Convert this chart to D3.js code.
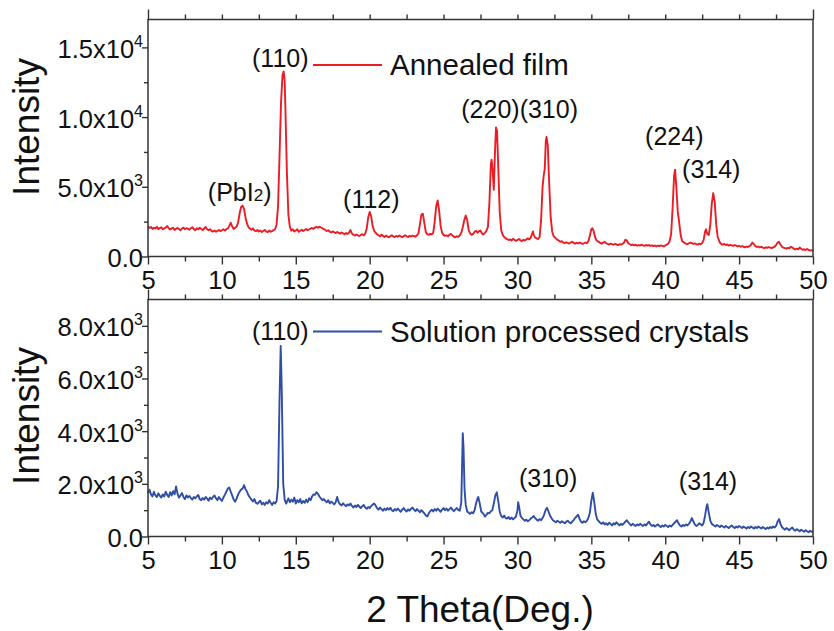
<!DOCTYPE html>
<html>
<head>
<meta charset="utf-8">
<script src="https://cdn.jsdelivr.net/npm/d3@7"></script>
<style>
  body { margin: 0; background: #fff; }
  svg { display: block; }
  text { font-family: "Liberation Sans", Arial, sans-serif; fill: #111; }
</style>
</head>
<body>
<svg id="chart" width="834" height="631"></svg>
<script>
// XRD pattern of the annealed film: [2θ (deg), intensity (counts)]
const filmPattern = [
  [5.0,2150],[5.1,2050],[5.2,2120],[5.3,1980],[5.4,2060],[5.5,2010],[5.6,2130],[5.7,1960],[5.8,2040],[5.9,2100],
  [6.0,1950],[6.1,2020],[6.2,2080],[6.3,2180],[6.4,2020],[6.5,1940],[6.6,2010],[6.7,2060],[6.8,1900],[6.9,1990],
  [7.0,2050],[7.1,1970],[7.2,1880],[7.3,2010],[7.4,2070],[7.5,1960],[7.6,2030],[7.7,1990],[7.8,1920],[7.9,2040],
  [8.0,2100],[8.1,1970],[8.2,1890],[8.3,2020],[8.4,1950],[8.5,2060],[8.6,1980],[8.7,1900],[8.8,2010],[8.9,2120],
  [9.0,1950],[9.1,1880],[9.2,1960],[9.3,1840],[9.4,1790],[9.5,1860],[9.6,1770],[9.7,1840],[9.8,1900],[9.9,1820],
  [10.0,1880],[10.1,1950],[10.2,1870],[10.3,1960],[10.4,2000],[10.5,2200],[10.6,2420],[10.7,2150],[10.8,1980],[10.9,2060],
  [11.0,2150],[11.1,2450],[11.2,3100],[11.3,3550],[11.4,3650],[11.5,3400],[11.6,2800],[11.7,2350],[11.8,2100],[11.9,2000],
  [12.0,1920],[12.1,2010],[12.2,1870],[12.3,1820],[12.4,1900],[12.5,1790],[12.6,1860],[12.7,1760],[12.8,1830],[12.9,1900],
  [13.0,1800],[13.1,1750],[13.2,1860],[13.3,1780],[13.4,1820],[13.5,1900],[13.6,1950],[13.7,2300],[13.8,3600],[13.9,7200],
  [14.0,11000],[14.1,13000],[14.18,13280],[14.25,12600],[14.3,10500],[14.4,6000],[14.5,3000],[14.6,2100],[14.7,1850],[14.8,1960],
  [14.9,1800],[15.0,1870],[15.1,1950],[15.2,1780],[15.3,1850],[15.4,1920],[15.5,1830],[15.6,1900],[15.7,1980],[15.8,1880],
  [15.9,1940],[16.0,2000],[16.1,2050],[16.2,1980],[16.3,2080],[16.4,2120],[16.5,2060],[16.6,2140],[16.7,2080],[16.8,2030],
  [16.9,1960],[17.0,1900],[17.1,1830],[17.2,1880],[17.3,1780],[17.4,1720],[17.5,1800],[17.6,1740],[17.7,1680],[17.8,1760],
  [17.9,1700],[18.0,1640],[18.1,1720],[18.2,1660],[18.3,1600],[18.4,1680],[18.5,1620],[18.6,1700],[18.7,1900],[18.8,1650],
  [18.9,1560],[19.0,1500],[19.1,1580],[19.2,1520],[19.3,1470],[19.4,1550],[19.5,1600],[19.6,1520],[19.7,1650],[19.8,2000],
  [19.9,2800],[20.0,3190],[20.1,2900],[20.2,2200],[20.3,1850],[20.4,1700],[20.5,1600],[20.6,1520],[20.7,1450],[20.8,1560],
  [20.9,1480],[21.0,1400],[21.1,1500],[21.2,1430],[21.3,1380],[21.4,1460],[21.5,1520],[21.6,1440],[21.7,1390],[21.8,1480],
  [21.9,1420],[22.0,1500],[22.1,1440],[22.2,1380],[22.3,1460],[22.4,1520],[22.5,1450],[22.6,1400],[22.7,1480],[22.8,1430],
  [22.9,1500],[23.0,1460],[23.1,1420],[23.2,1520],[23.3,1650],[23.4,2300],[23.5,3000],[23.6,3060],[23.7,2400],[23.8,1750],
  [23.9,1600],[24.0,1550],[24.1,1620],[24.2,1580],[24.3,1700],[24.4,2500],[24.5,3600],[24.6,4020],[24.7,3300],[24.8,2200],
  [24.9,1700],[25.0,1550],[25.1,1480],[25.2,1520],[25.3,1450],[25.4,1560],[25.5,1620],[25.6,1500],[25.7,1420],[25.8,1380],
  [25.9,1460],[26.0,1400],[26.1,1520],[26.2,1700],[26.3,2100],[26.4,2600],[26.5,2940],[26.6,2600],[26.7,1900],[26.8,1650],
  [26.9,1550],[27.0,1620],[27.1,1780],[27.2,1850],[27.3,1700],[27.4,1820],[27.5,1860],[27.6,1650],[27.7,1580],[27.8,1700],
  [27.9,1850],[28.0,2100],[28.1,3800],[28.2,6600],[28.25,6940],[28.32,6200],[28.4,4790],[28.48,7500],[28.55,9260],[28.62,9000],
  [28.7,6500],[28.8,3200],[28.9,1900],[29.0,1550],[29.1,1400],[29.2,1300],[29.3,1250],[29.4,1180],[29.5,1220],[29.6,1150],
  [29.7,1260],[29.8,1200],[29.9,1120],[30.0,1180],[30.1,1250],[30.2,1160],[30.3,1100],[30.4,1200],[30.5,1140],[30.6,1230],
  [30.7,1300],[30.8,1220],[30.9,1350],[31.0,1650],[31.05,1800],[31.1,1550],[31.2,1350],[31.3,1300],[31.4,1250],[31.5,1400],
  [31.6,2600],[31.7,5000],[31.77,5740],[31.85,6300],[31.92,8300],[31.97,8570],[32.05,8000],[32.15,5200],[32.25,2800],[32.35,1800],
  [32.45,1450],[32.6,1300],[32.7,1200],[32.8,1150],[32.9,1050],[33.0,1100],[33.1,1000],[33.2,960],[33.3,1020],[33.4,980],
  [33.5,930],[33.6,1000],[33.7,1060],[33.8,970],[33.9,920],[34.0,980],[34.1,940],[34.2,1000],[34.3,960],[34.4,900],
  [34.5,950],[34.6,1000],[34.7,960],[34.8,1100],[34.9,1500],[35.0,1950],[35.07,2030],[35.15,1850],[35.25,1400],[35.35,1150],
  [35.5,1050],[35.6,980],[35.7,920],[35.8,1000],[35.9,1050],[36.0,950],[36.1,900],[36.2,860],[36.3,920],[36.4,880],
  [36.5,840],[36.6,900],[36.7,860],[36.8,820],[36.9,880],[37.0,850],[37.1,900],[37.2,980],[37.3,1200],[37.4,1150],
  [37.5,950],[37.6,880],[37.7,820],[37.8,860],[37.9,800],[38.0,840],[38.1,780],[38.2,820],[38.3,790],[38.4,850],
  [38.5,800],[38.6,760],[38.7,830],[38.8,780],[38.9,820],[39.0,760],[39.1,800],[39.2,740],[39.3,790],[39.4,720],
  [39.5,780],[39.6,740],[39.7,800],[39.8,760],[39.9,720],[40.0,790],[40.1,850],[40.2,920],[40.3,1100],[40.4,1600],
  [40.5,3500],[40.6,5800],[40.67,6225],[40.75,5000],[40.85,3200],[40.95,2400],[41.05,1500],[41.15,1100],[41.3,980],[41.4,920],
  [41.5,880],[41.6,950],[41.7,1000],[41.8,960],[41.9,900],[42.0,940],[42.1,880],[42.2,850],[42.3,920],[42.4,880],
  [42.5,960],[42.6,1200],[42.7,1800],[42.76,1950],[42.85,1600],[42.95,1550],[43.05,2300],[43.15,3800],[43.25,4550],[43.35,3900],
  [43.45,2300],[43.55,1400],[43.7,1000],[43.8,880],[43.9,850],[44.0,900],[44.1,820],[44.2,860],[44.3,780],[44.4,840],
  [44.5,800],[44.6,760],[44.7,820],[44.8,780],[44.9,720],[45.0,760],[45.1,700],[45.2,750],[45.3,700],[45.4,660],
  [45.5,720],[45.6,680],[45.7,740],[45.8,820],[45.9,1000],[46.0,880],[46.1,740],[46.2,680],[46.3,720],[46.4,650],
  [46.5,700],[46.6,640],[46.7,600],[46.8,660],[46.9,620],[47.0,680],[47.1,640],[47.2,600],[47.3,660],[47.4,700],
  [47.5,820],[47.6,980],[47.7,1050],[47.8,850],[47.9,700],[48.0,640],[48.1,600],[48.2,560],[48.3,620],[48.4,580],
  [48.5,700],[48.6,640],[48.7,560],[48.8,500],[48.9,560],[49.0,520],[49.1,640],[49.2,560],[49.3,480],[49.4,520],
  [49.5,460],[49.6,540],[49.7,480],[49.8,420],[49.9,460],[50.0,400]
];

// XRD pattern of the solution processed crystals: [2θ (deg), intensity (counts)]
const crystalPattern = [
  [5.0,1650],[5.1,1780],[5.2,1600],[5.3,1520],[5.4,1700],[5.5,1560],[5.6,1500],[5.7,1640],[5.8,1540],[5.9,1480],
  [6.0,1600],[6.1,1520],[6.2,1700],[6.3,1580],[6.4,1500],[6.5,1680],[6.6,1560],[6.7,1720],[6.8,1600],[6.9,1900],
  [7.0,1620],[7.1,1480],[7.2,1560],[7.3,1650],[7.4,1500],[7.5,1420],[7.6,1560],[7.7,1480],[7.8,1540],[7.9,1460],
  [8.0,1400],[8.1,1500],[8.2,1450],[8.3,1520],[8.4,1580],[8.5,1420],[8.6,1380],[8.7,1460],[8.8,1400],[8.9,1500],
  [9.0,1440],[9.1,1360],[9.2,1480],[9.3,1420],[9.4,1500],[9.5,1560],[9.6,1450],[9.7,1380],[9.8,1500],[9.9,1420],
  [10.0,1350],[10.1,1480],[10.2,1580],[10.3,1700],[10.4,1820],[10.5,1860],[10.6,1700],[10.7,1550],[10.8,1400],[10.9,1320],
  [11.0,1450],[11.1,1600],[11.2,1700],[11.3,1780],[11.4,1820],[11.5,1950],[11.6,1800],[11.7,1700],[11.8,1560],[11.9,1480],
  [12.0,1400],[12.1,1330],[12.2,1420],[12.3,1280],[12.4,1240],[12.5,1300],[12.6,1360],[12.7,1220],[12.8,1280],[12.9,1200],
  [13.0,1300],[13.1,1250],[13.2,1380],[13.3,1280],[13.4,1200],[13.5,1300],[13.6,1250],[13.7,1340],[13.8,1900],[13.9,5200],
  [13.98,7240],[14.05,5600],[14.15,2000],[14.25,1400],[14.35,1250],[14.5,1450],[14.6,1300],[14.7,1400],[14.8,1320],[14.9,1480],
  [15.0,1250],[15.1,1380],[15.2,1300],[15.3,1420],[15.4,1260],[15.5,1350],[15.6,1280],[15.7,1400],[15.8,1300],[15.9,1450],
  [16.0,1380],[16.1,1520],[16.2,1600],[16.3,1580],[16.4,1680],[16.5,1620],[16.6,1520],[16.7,1450],[16.8,1380],[16.9,1420],
  [17.0,1350],[17.1,1300],[17.2,1380],[17.3,1260],[17.4,1320],[17.5,1280],[17.6,1220],[17.7,1300],[17.8,1500],[17.9,1300],
  [18.0,1220],[18.1,1180],[18.2,1260],[18.3,1200],[18.4,1150],[18.5,1220],[18.6,1180],[18.7,1250],[18.8,1160],[18.9,1100],
  [19.0,1180],[19.1,1120],[19.2,1200],[19.3,1140],[19.4,1080],[19.5,1150],[19.6,1200],[19.7,1100],[19.8,1050],[19.9,1120],
  [20.0,1080],[20.1,1150],[20.2,1210],[20.3,1250],[20.4,1180],[20.5,1080],[20.6,1020],[20.7,1100],[20.8,1040],[20.9,980],
  [21.0,1060],[21.1,1000],[21.2,1080],[21.3,1020],[21.4,1090],[21.5,1000],[21.6,960],[21.7,1040],[21.8,990],[21.9,1060],
  [22.0,1000],[22.1,940],[22.2,1020],[22.3,1080],[22.4,1000],[22.5,950],[22.6,1030],[22.7,980],[22.8,1050],[22.9,1100],
  [23.0,1020],[23.1,960],[23.2,1040],[23.3,980],[23.4,920],[23.5,1000],[23.6,940],[23.7,880],[23.8,800],[23.9,760],
  [24.0,880],[24.1,960],[24.2,1020],[24.3,950],[24.4,1040],[24.5,980],[24.6,1060],[24.7,1000],[24.8,940],[24.9,1020],
  [25.0,1080],[25.1,1000],[25.2,1060],[25.3,980],[25.4,1040],[25.5,1100],[25.6,1020],[25.7,960],[25.8,1030],[25.9,1080],
  [26.0,1000],[26.1,980],[26.2,1300],[26.25,2600],[26.3,3925],[26.35,3400],[26.42,1800],[26.5,1200],[26.6,950],[26.7,900],
  [26.8,860],[26.9,920],[27.0,880],[27.1,1000],[27.2,1250],[27.3,1450],[27.35,1500],[27.45,1250],[27.55,950],[27.7,860],
  [27.8,760],[27.9,820],[28.0,900],[28.1,880],[28.2,960],[28.3,1000],[28.4,1250],[28.5,1550],[28.6,1680],[28.7,1350],
  [28.8,950],[28.9,780],[29.0,720],[29.1,800],[29.2,700],[29.3,680],[29.4,740],[29.5,660],[29.6,720],[29.7,650],
  [29.8,700],[29.9,760],[30.0,1000],[30.05,1300],[30.12,1100],[30.2,800],[30.3,700],[30.4,650],[30.5,600],[30.6,640],
  [30.7,580],[30.8,620],[30.9,680],[31.0,720],[31.1,780],[31.2,700],[31.3,640],[31.4,600],[31.5,660],[31.6,620],
  [31.7,700],[31.8,820],[31.9,1000],[32.0,1090],[32.1,950],[32.2,800],[32.3,700],[32.4,620],[32.5,580],[32.6,540],
  [32.7,600],[32.8,560],[32.9,520],[33.0,580],[33.1,540],[33.2,500],[33.3,560],[33.4,600],[33.5,540],[33.6,500],
  [33.7,560],[33.8,620],[33.9,700],[34.0,760],[34.1,830],[34.2,680],[34.3,560],[34.4,520],[34.5,580],[34.6,540],
  [34.7,600],[34.8,700],[34.9,900],[35.0,1350],[35.1,1660],[35.2,1300],[35.3,850],[35.4,650],[35.5,580],[35.6,520],
  [35.7,480],[35.8,540],[35.9,460],[36.0,500],[36.1,440],[36.2,520],[36.3,480],[36.4,420],[36.5,500],[36.6,460],
  [36.7,540],[36.8,480],[36.9,420],[37.0,480],[37.1,440],[37.2,500],[37.3,560],[37.4,620],[37.5,540],[37.6,470],
  [37.7,420],[37.8,480],[37.9,440],[38.0,400],[38.1,460],[38.2,420],[38.3,480],[38.4,440],[38.5,400],[38.6,460],
  [38.7,420],[38.8,500],[38.9,560],[39.0,460],[39.1,400],[39.2,440],[39.3,380],[39.4,420],[39.5,460],[39.6,400],
  [39.7,360],[39.8,420],[39.9,380],[40.0,440],[40.1,400],[40.2,360],[40.3,420],[40.4,380],[40.5,440],[40.6,500],
  [40.7,560],[40.8,620],[40.9,500],[41.0,420],[41.1,380],[41.2,440],[41.3,400],[41.4,460],[41.5,420],[41.6,480],
  [41.7,560],[41.8,700],[41.9,580],[42.0,460],[42.1,400],[42.2,440],[42.3,500],[42.4,460],[42.5,420],[42.6,520],
  [42.7,800],[42.8,1150],[42.85,1230],[42.95,900],[43.05,600],[43.15,480],[43.3,420],[43.4,380],[43.5,440],[43.6,400],
  [43.7,360],[43.8,420],[43.9,380],[44.0,340],[44.1,400],[44.2,360],[44.3,320],[44.4,380],[44.5,420],[44.6,360],
  [44.7,320],[44.8,380],[44.9,340],[45.0,400],[45.1,360],[45.2,320],[45.3,380],[45.4,340],[45.5,300],[45.6,360],
  [45.7,320],[45.8,380],[45.9,340],[46.0,300],[46.1,360],[46.2,320],[46.3,380],[46.4,340],[46.5,300],[46.6,360],
  [46.7,320],[46.8,280],[46.9,340],[47.0,300],[47.1,360],[47.2,320],[47.3,380],[47.4,340],[47.5,400],[47.6,560],
  [47.7,660],[47.8,480],[47.9,360],[48.0,300],[48.1,260],[48.2,320],[48.3,280],[48.4,240],[48.5,300],[48.6,340],
  [48.7,260],[48.8,220],[48.9,280],[49.0,240],[49.1,200],[49.2,260],[49.3,220],[49.4,180],[49.5,240],[49.6,200],
  [49.7,160],[49.8,220],[49.9,180],[50.0,200]
];

// Axis ticks
const thetaMajorTicks = [5, 10, 15, 20, 25, 30, 35, 40, 45, 50];
const thetaMinorTicks = [7.5, 12.5, 17.5, 22.5, 27.5, 32.5, 37.5, 42.5, 47.5];
const filmYMajor = [0, 5000, 10000, 15000];
const filmYMinor = [2500, 7500, 12500];
const filmYLabels = [["0.0", ""], ["5.0x10", "3"], ["1.0x10", "4"], ["1.5x10", "4"]];
const crystalYMajor = [0, 2000, 4000, 6000, 8000];
const crystalYMinor = [1000, 3000, 5000, 7000];
const crystalYLabels = [["0.0", ""], ["2.0x10", "3"], ["4.0x10", "3"], ["6.0x10", "3"], ["8.0x10", "3"]];

// Peak labels: [text, 2θ at left edge of label, intensity at baseline]
const filmPeakLabels = [
  ["(110)", 12.04, 13600],
  ["(PbI", 9.05, 4000],
  ["(112)", 18.2, 3500],
  ["(220)(310)", 26.2, 9950],
  ["(224)", 38.64, 8020],
  ["(314)", 41.14, 5650]
];
const crystalPeakLabels = [
  ["(110)", 12.04, 7460],
  ["(310)", 30.1, 1890],
  ["(314)", 40.92, 1760]
];

const seriesNames = ["Annealed film", "Solution processed crystals"];
const seriesColors = ["#ec1c24", "#2f4ea6"];

const svg = d3.select("#chart");
const x = d3.scaleLinear().domain([5, 50]).range([148, 813]);

const panels = [
  {
    data: filmPattern, color: seriesColors[0], name: seriesNames[0],
    y: d3.scaleLinear().domain([0, 17000]).range([256.5, 19.5]),
    major: filmYMajor, minor: filmYMinor, labels: filmYLabels,
    peaks: filmPeakLabels, legendY: 65, legendBase: 75, titleY: 127
  },
  {
    data: crystalPattern, color: seriesColors[1], name: seriesNames[1],
    y: d3.scaleLinear().domain([0, 9000]).range([536.5, 299.5]),
    major: crystalYMajor, minor: crystalYMinor, labels: crystalYLabels,
    peaks: crystalPeakLabels, legendY: 331.5, legendBase: 341.5, titleY: 416
  }
];

const axisColor = "#333";

function styleAxis(g) {
  g.select(".domain").remove();
  g.selectAll(".tick line").attr("stroke", axisColor).attr("stroke-width", 1.4);
  g.selectAll(".tick text").attr("font-size", 25.5).attr("fill", "#111")
    .style("font-family", '"Liberation Sans", Arial, sans-serif');
}

panels.forEach((p) => {
  const y = p.y;
  const [yBottom, yTop] = y.range();
  const g = svg.append("g");

  // data trace
  g.append("path")
    .datum(p.data)
    .attr("fill", "none")
    .attr("stroke", p.color)
    .attr("stroke-width", 1.9)
    .attr("stroke-linejoin", "round")
    .attr("d", d3.line().x(d => x(d[0])).y(d => y(d[1])));

  // bottom axis: major (labelled) and minor ticks
  g.append("g").attr("transform", `translate(0,${yBottom})`)
    .call(d3.axisBottom(x).tickValues(thetaMajorTicks).tickSize(8).tickPadding(6.5).tickFormat(d3.format("d")))
    .call(styleAxis);
  g.append("g").attr("transform", `translate(0,${yBottom})`)
    .call(d3.axisBottom(x).tickValues(thetaMinorTicks).tickSize(5).tickFormat(""))
    .call(styleAxis);

  // top axis ticks
  g.append("g").attr("transform", `translate(0,${yTop})`)
    .call(d3.axisTop(x).tickValues(thetaMajorTicks.slice(1, -1).concat(thetaMinorTicks)).tickSize(5).tickFormat(""))
    .call(styleAxis);
  g.append("g").attr("transform", `translate(0,${yTop})`)
    .call(d3.axisTop(x).tickValues([5, 50]).tickSize(10).tickFormat(""))
    .call(styleAxis);

  // left axis
  g.append("g").attr("transform", `translate(${x(5)},0)`)
    .call(d3.axisLeft(y).tickValues(p.minor).tickSize(4).tickFormat(""))
    .call(styleAxis);
  const left = g.append("g").attr("transform", `translate(${x(5)},0)`)
    .call(d3.axisLeft(y).tickValues(p.major).tickSize(6).tickFormat(""))
    .call(styleAxis);
  left.selectAll(".tick").each(function (d, i) {
    const t = d3.select(this).append("text")
      .attr("x", -5).attr("y", 10)
      .attr("text-anchor", "end")
      .attr("font-size", 25.5);
    t.append("tspan").text(p.labels[i][0]);
    if (p.labels[i][1]) {
      t.append("tspan").attr("font-size", 16).attr("dy", -11).text(p.labels[i][1]);
    }
  });

  // frame
  g.append("rect")
    .attr("x", x(5)).attr("y", yTop)
    .attr("width", x(50) - x(5)).attr("height", yBottom - yTop)
    .attr("fill", "none").attr("stroke", axisColor).attr("stroke-width", 1.5);

  // legend
  g.append("line")
    .attr("x1", 313).attr("x2", 382)
    .attr("y1", p.legendY).attr("y2", p.legendY)
    .attr("stroke", p.color).attr("stroke-width", 2.2);
  g.append("text")
    .attr("x", 390).attr("y", p.legendBase)
    .attr("font-size", 29.5)
    .text(p.name);

  // peak labels
  p.peaks.forEach(([label, tx, ty]) => {
    const t = g.append("text")
      .attr("x", x(tx)).attr("y", y(ty))
      .attr("font-size", 25);
    t.append("tspan").text(label);
    if (label === "(PbI") {
      t.append("tspan").attr("font-size", 17).text("2");
      t.append("tspan").text(")");
    }
  });

  // y title
  svg.append("text")
    .attr("transform", `translate(39,${p.titleY}) rotate(-90)`)
    .attr("text-anchor", "middle")
    .attr("font-size", 37)
    .text("Intensity");
});

// x title
svg.append("text")
  .attr("x", 480).attr("y", 622)
  .attr("text-anchor", "middle")
  .attr("font-size", 37)
  .text("2 Theta(Deg.)");
</script>
</body>
</html>
